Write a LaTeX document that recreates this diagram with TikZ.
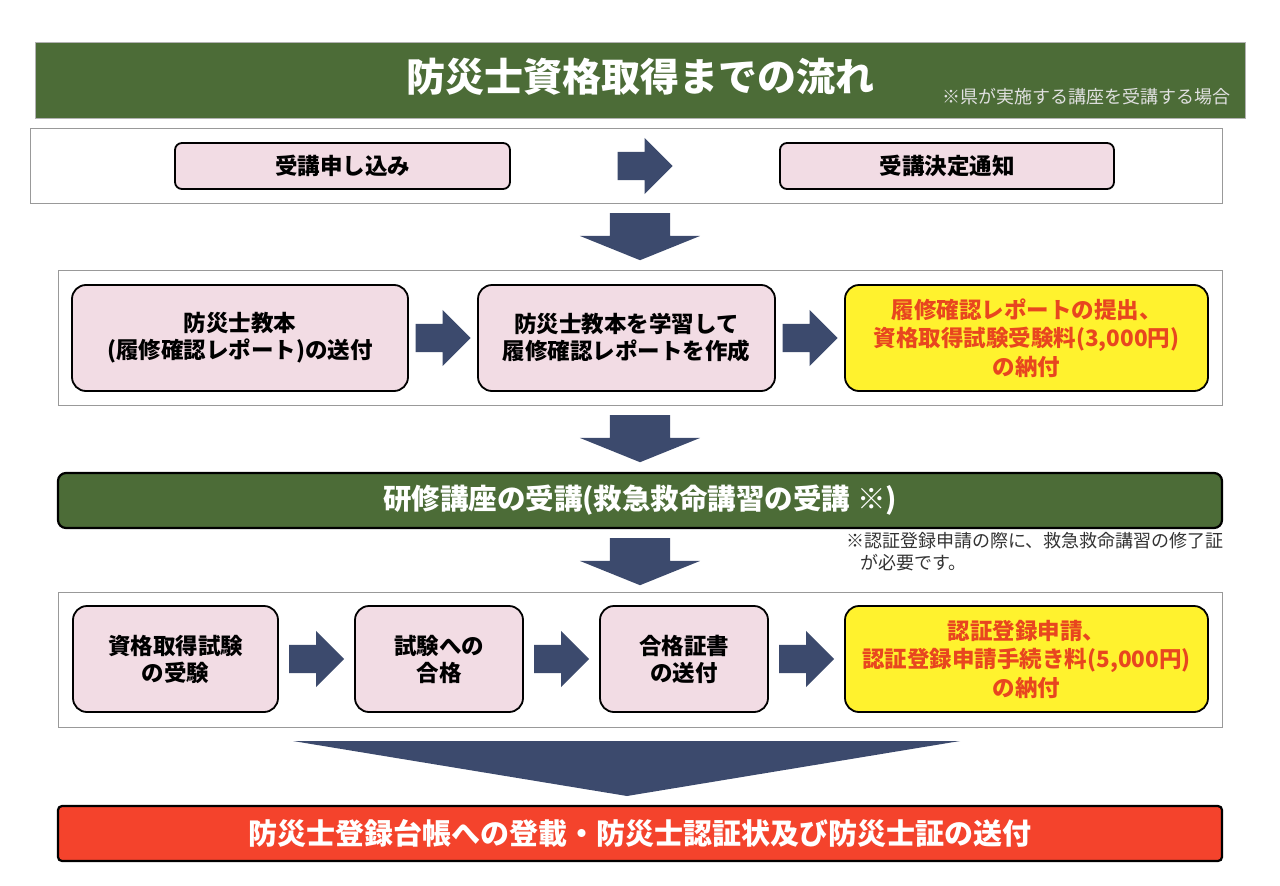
\documentclass[tikz,border=0pt]{standalone}
\usepackage{fontspec}
\setmainfont{Noto Sans CJK JP}
\usepackage{tikz}
\usetikzlibrary{positioning,calc,shapes.arrows}
\definecolor{ttlgreen}{HTML}{4C6C37}
\definecolor{navy}{HTML}{3C4A6D}
\definecolor{stepink}{HTML}{F2DCE4}
\definecolor{feeyellow}{HTML}{FFF22E}
\definecolor{feetext}{HTML}{E8461F}
\definecolor{finalred}{HTML}{F4432C}
\tikzset{every stage/.style={draw=gray!80, line width=1pt, fill=white}}
\tikzset{stage/.style={rectangle, every stage, inner sep=0pt}}
\tikzset{stepbox/.style={rectangle, rounded corners=14pt, draw=black, line width=1.8pt,
  fill=stepink, align=center, inner sep=0pt, minimum height=106pt,
  font=\bfseries\fontsize{22.5}{27}\selectfont}}
\tikzset{feebox/.style={stepbox, fill=feeyellow, text=feetext,
  font=\bfseries\fontsize{22.5}{28.5}\selectfont}}
\tikzset{bar/.style={rectangle, rounded corners=8pt, draw=black, line width=2.2pt,
  text=white, inner sep=0pt, minimum width=1164pt, minimum height=55pt}}
\tikzset{rarrow/.style={single arrow, anchor=tail, fill=navy, draw=none, inner xsep=0pt,
  inner ysep=14pt, minimum height=55pt, minimum width=56pt, single arrow head extend=14pt}}
\tikzset{darrow/.style={single arrow, anchor=tail, fill=navy, draw=none, inner xsep=0pt,
  inner ysep=30pt, rotate=-90, minimum height=47pt, minimum width=120pt,
  single arrow head extend=30pt, single arrow tip angle=136}}

\begin{document}
\begin{tikzpicture}[x=1pt,y=-1pt]
  \useasboundingbox (0,0) rectangle (1280,886);
  % title band
  \node[rectangle, fill=ttlgreen, draw=gray!60, minimum width=1210pt, minimum height=76pt]
    (title) at (640,80) {};
  \node[text=white, font=\bfseries\fontsize{39}{41}\selectfont] (titletext) at (640,77)
    {防災士資格取得までの流れ};
  \node[text=white!88!black, font=\fontsize{18}{20}\selectfont, anchor=east]
    (titlenote) at (1234,97) {※県が実施する講座を受講する場合};

  % row 1: application
  \node[stage, minimum width=1192pt, minimum height=75pt] (row1) at (626,165.5) {};
  \node[stepbox, rounded corners=7pt, minimum width=335pt, minimum height=46pt]
    (apply) at (342.5,166) {受講申し込み};
  \node[stepbox, rounded corners=7pt, minimum width=334pt, minimum height=46pt]
    (notice) at (947,166) {受講決定通知};
  \node[rarrow, minimum width=52pt] (r1) at ($(apply.east)!0.5!(notice.west)+(-27.5,0)$) {};

  \node[darrow] (d1) at (640,213) {};

  % row 2: textbook and report
  \node[stage, minimum width=1164pt, minimum height=135pt] (row2) at (640,337.5) {};
  \node[stepbox, minimum width=336pt] (book) at (240,338)
    {防災士教本\\(履修確認レポート)の送付};
  \node[stepbox, minimum width=297pt] (study) at (626.5,338)
    {防災士教本を学習して\\履修確認レポートを作成};
  \node[feebox, minimum width=363pt] (report) at (1026.5,338)
    {履修確認レポートの提出、\\資格取得試験受験料(3,000円)\\の納付};
  \node[rarrow] (r2) at ($(book.east)!0.5!(study.west)+(-27.5,0)$) {};
  \node[rarrow] (r3) at ($(study.east)!0.5!(report.west)+(-27.5,0)$) {};

  \node[darrow] (d2) at (640,415) {};

  % training course
  \node[bar, fill=ttlgreen, font=\bfseries\fontsize{28.5}{30}\selectfont] (course) at (640,500.5)
    {研修講座の受講(救急救命講習の受講 ※)};

  \node[darrow] (d3) at (640,538) {};
  \node[anchor=north west, align=left, text=black!80, inner sep=0pt,
    font=\fontsize{18}{22}\selectfont] (cnote) at (846,532)
    {※認証登録申請の際に、救急救命講習の修了証\\\hspace*{14pt}が必要です。};

  % row 3: exam and certification
  \node[stage, minimum width=1164pt, minimum height=135pt] (row3) at (640,659.5) {};
  \node[stepbox, minimum width=205pt] (exam) at (175.5,659) {資格取得試験\\の受験};
  \node[stepbox, minimum width=168pt] (pass) at (439,659) {試験への\\合格};
  \node[stepbox, minimum width=168pt] (cert) at (684,659) {合格証書\\の送付};
  \node[feebox, minimum width=363pt] (regist) at (1026.5,659)
    {認証登録申請、\\認証登録申請手続き料(5,000円)\\の納付};
  \node[rarrow] (r4) at ($(exam.east)!0.5!(pass.west)+(-27.5,0)$) {};
  \node[rarrow] (r5) at ($(pass.east)!0.5!(cert.west)+(-27.5,0)$) {};
  \node[rarrow] (r6) at ($(cert.east)!0.5!(regist.west)+(-27.5,0)$) {};

  % final step
  \coordinate (tl) at (293,741);
  \coordinate (tr) at (960,741);
  \coordinate (tip) at (627,796);
  \fill[navy] (tl) -- (tr) -- (tip) -- cycle;
  \node[bar, rounded corners=4pt, fill=finalred, font=\bfseries\fontsize{29}{31}\selectfont]
    (final) at (640,833.5) {防災士登録台帳への登載・防災士認証状及び防災士証の送付};
\end{tikzpicture}
\end{document}
